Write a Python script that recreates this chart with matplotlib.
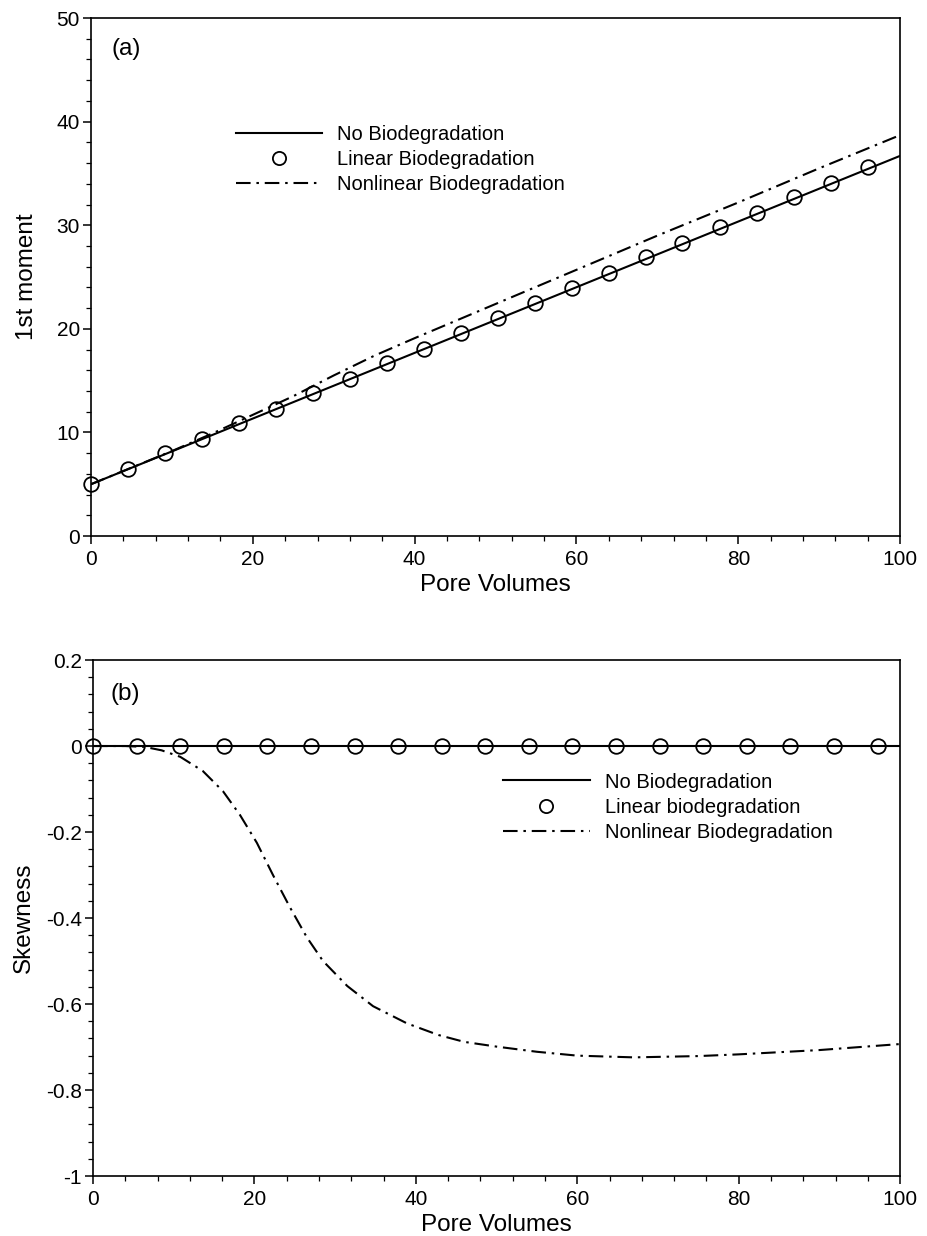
import matplotlib
matplotlib.use("Agg")
import matplotlib.pyplot as plt
from matplotlib.ticker import MultipleLocator, FuncFormatter
from matplotlib.lines import Line2D

plt.rcParams['font.family'] = ['Liberation Sans', 'DejaVu Sans']
plt.rcParams['axes.unicode_minus'] = False

# ---- panel (a): first moment ----
x_none_a = [0, 100]
m1_none = [5.0, 36.7]

x_lin_a = [0, 4.6, 9.1, 13.7, 18.3, 22.9, 27.4, 32.0, 36.6, 41.1, 45.7,
           50.3, 54.9, 59.4, 64.0, 68.6, 73.1, 77.7, 82.3, 86.9, 91.4, 96.0]
m1_lin = [5.0, 6.5, 8.0, 9.4, 10.9, 12.3, 13.8, 15.2, 16.7, 18.1, 19.6,
          21.0, 22.5, 23.9, 25.4, 26.9, 28.3, 29.8, 31.2, 32.7, 34.1, 35.6]

x_nl_a = [0, 5, 10, 15, 20, 25, 30, 35, 40, 50, 60, 70, 80, 90, 100]
m1_nl = [5.0, 6.6, 8.2, 9.9, 11.7, 13.5, 15.5, 17.4, 19.1, 22.4, 25.7,
         29.0, 32.2, 35.5, 38.7]

# ---- panel (b): skewness ----
x_none_b = [0, 100]
sk_none = [0.0, 0.0]

x_lin_b = [0, 5.4, 10.8, 16.2, 21.6, 27.0, 32.4, 37.8, 43.2, 48.6,
           54.0, 59.4, 64.8, 70.2, 75.6, 81.0, 86.4, 91.8, 97.2]
sk_lin = [0.0] * len(x_lin_b)

x_nl_b = [0, 4, 6.4, 8.5, 10.8, 13.6, 16.1, 18.2, 20.3, 22.3, 24.4, 26.5,
          28.5, 31.5, 34.7, 38.9, 42.8, 46, 50, 55, 60, 67, 75, 80, 90, 100]
sk_nl = [0.0, 0.0, -0.002, -0.010, -0.025, -0.058, -0.105, -0.160, -0.225,
         -0.300, -0.375, -0.445, -0.500, -0.558, -0.605, -0.645, -0.672,
         -0.688, -0.699, -0.711, -0.72, -0.724, -0.721, -0.717, -0.707,
         -0.693]

labels_a = ["No Biodegradation", "Linear Biodegradation", "Nonlinear Biodegradation"]
labels_b = ["No Biodegradation", "Linear biodegradation", "Nonlinear Biodegradation"]

DASHDOT = (0, (7, 2.8, 1.2, 2.8))
LW = 1.5
MS = 10.5

fig = plt.figure(figsize=(9.28, 12.36), dpi=100)
ax_a = fig.add_axes([0.098, 0.5663, 0.872, 0.4191])
ax_b = fig.add_axes([0.1002, 0.0485, 0.8698, 0.4175])


def style_axes(ax):
    ax.tick_params(which='major', direction='out', length=6, width=1.1,
                   labelsize=15, top=False, right=False)
    ax.tick_params(axis='x', which='major', pad=4)
    ax.tick_params(axis='y', which='major', pad=2)
    ax.tick_params(which='minor', direction='out', length=3.5, width=0.9,
                   top=False, right=False)
    for sp in ax.spines.values():
        sp.set_linewidth(1.2)
    ax.xaxis.set_major_locator(MultipleLocator(20))
    ax.xaxis.set_minor_locator(MultipleLocator(4))
    ax.set_xlabel("Pore Volumes", fontsize=17.5, labelpad=4)


def draw_panel(ax, xn, yn, xl, yl, xd, yd):
    ax.plot(xn, yn, color='black', lw=LW, solid_capstyle='butt')
    ax.plot(xl, yl, linestyle='none', marker='o', ms=MS, mfc='none',
            mec='black', mew=1.3, clip_on=False)
    ax.plot(xd, yd, color='black', lw=LW, linestyle=DASHDOT)
    handles = [
        Line2D([], [], color='black', lw=LW),
        Line2D([], [], linestyle='none', marker='o', ms=9.5, mfc='none',
               mec='black', mew=1.3),
        Line2D([], [], color='black', lw=LW, linestyle=DASHDOT),
    ]
    return handles


# panel (a)
h = draw_panel(ax_a, x_none_a, m1_none, x_lin_a, m1_lin, x_nl_a, m1_nl)
ax_a.set_xlim(0, 100)
ax_a.set_ylim(0, 50)
ax_a.yaxis.set_major_locator(MultipleLocator(10))
ax_a.yaxis.set_minor_locator(MultipleLocator(2))
style_axes(ax_a)
ax_a.set_ylabel("1st moment", fontsize=17.5, labelpad=13)
ax_a.text(0.025, 0.94, "(a)", transform=ax_a.transAxes, fontsize=17.5,
          ha='left', va='center')
ax_a.legend(h, labels_a, loc='upper left', bbox_to_anchor=(0.179, 0.793),
            frameon=False, fontsize=14.5, handlelength=4.3, handletextpad=0.75,
            labelspacing=0.3, borderaxespad=0, borderpad=0)

# panel (b)
h = draw_panel(ax_b, x_none_b, sk_none, x_lin_b, sk_lin, x_nl_b, sk_nl)
ax_b.set_xlim(0, 100)
ax_b.set_ylim(-1, 0.2)
ax_b.yaxis.set_major_locator(MultipleLocator(0.2))
ax_b.yaxis.set_minor_locator(MultipleLocator(0.04))
ax_b.yaxis.set_major_formatter(FuncFormatter(lambda v, p: "%g" % round(v, 2)))
style_axes(ax_b)
ax_b.set_ylabel("Skewness", fontsize=17.5, labelpad=8)
ax_b.text(0.022, 0.935, "(b)", transform=ax_b.transAxes, fontsize=17.5,
          ha='left', va='center')
ax_b.legend(h, labels_b, loc='upper left', bbox_to_anchor=(0.508, 0.782),
            frameon=False, fontsize=14.5, handlelength=4.3, handletextpad=0.75,
            labelspacing=0.3, borderaxespad=0, borderpad=0)

fig.savefig("out.png", dpi=100)
